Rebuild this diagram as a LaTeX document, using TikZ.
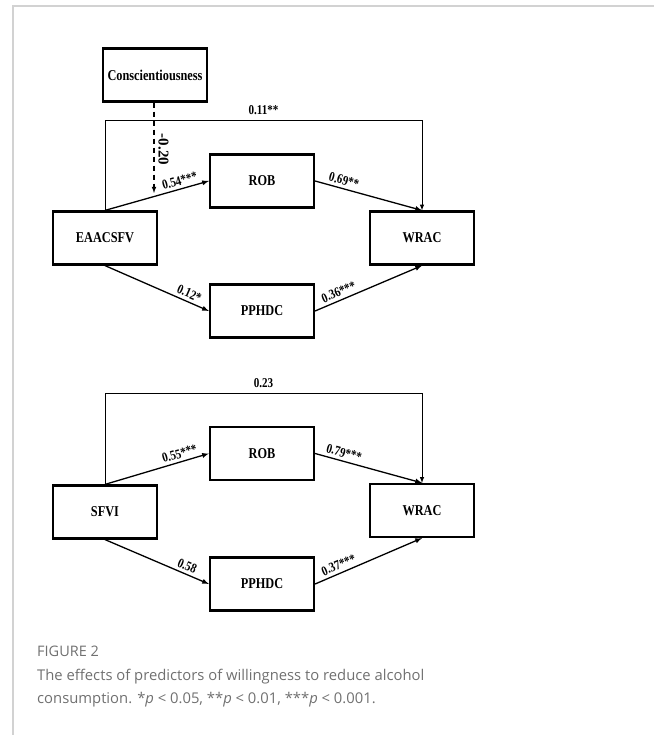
\documentclass[tikz,border=0pt]{standalone}
\usepackage{fontspec}
\setmainfont{Liberation Serif}
\newfontfamily\boxfont[FakeStretch=0.82]{Liberation Serif}
\newfontfamily\capfont{Open Sans}
\usepackage{tikz}
\usetikzlibrary{arrows}

\definecolor{framegray}{HTML}{D2D2D2}
\definecolor{capgray}{HTML}{707070}

\tikzset{
	varbox/.style={draw, line width=2.2pt, minimum width=104pt, minimum height=53pt,
		font=\boxfont\fontsize{15}{17}\selectfont\bfseries, inner sep=0pt},
	path/.style={line width=1.3pt, -latex},
	direct/.style={line width=1pt, -latex},
	coef/.style={font=\boxfont\fontsize{13.5}{15}\selectfont\bfseries, inner sep=2pt},
}

\begin{document}
\begin{tikzpicture}[x=1pt, y=-1pt]
		\useasboundingbox (0,0) rectangle (654,735);
		% frame of the figure panel
		\draw[framegray, line width=1.5pt] (13,735) -- (13,6) -- (654,6);

		% upper model
		\node[varbox] (consc) at (155,75) {Conscientiousness};
		\node[varbox] (eaacsfv) at (105,238) {EAACSFV};
		\node[varbox] (rob1) at (262,181) {ROB};
		\node[varbox] (wrac1) at (422,238) {WRAC};
		\node[varbox] (pphdc1) at (262,311) {PPHDC};
		\coordinate (mod1) at (154,193);

		\draw[line width=1.1pt, dash pattern=on 5pt off 4pt, -latex] (consc.south -| mod1) -- (mod1)
			node[coef, font=\fontsize{15}{17}\selectfont\bfseries, pos=0.52, xshift=9.5pt, rotate=-90] {-0.20};
		\draw[path] (eaacsfv.north) -- (rob1.west)
			node[coef, pos=0.74, sloped, above=1pt] {0.54***};
		\draw[path] (rob1.east) -- (wrac1.north)
			node[coef, pos=0.25, sloped, above=1pt] {0.69**};
		\draw[path] (eaacsfv.south) -- (pphdc1.west)
			node[coef, pos=0.78, sloped, above=1pt] {0.12*};
		\draw[path] (pphdc1.east) -- (wrac1.south)
			node[coef, pos=0.25, sloped, above=1pt] {0.36***};
		\draw[direct] (eaacsfv.north) -- ++(0,-90) coordinate (tl1)
			-- node[coef, above=3pt] {0.11**} (tl1 -| wrac1.north) -- (wrac1.north);

		% lower model
		\node[varbox] (sfvi) at (105,512) {SFVI};
		\node[varbox] (rob2) at (262,453.5) {ROB};
		\node[varbox] (wrac2) at (422,510.5) {WRAC};
		\node[varbox] (pphdc2) at (262,584) {PPHDC};

		\draw[path] (sfvi.north) -- (rob2.west)
			node[coef, pos=0.74, sloped, above=1pt] {0.55***};
		\draw[path] (rob2.east) -- (wrac2.north)
			node[coef, pos=0.25, sloped, above=1pt] {0.79***};
		\draw[path] (sfvi.south) -- (pphdc2.west)
			node[coef, pos=0.76, sloped, above=1pt] {0.58};
		\draw[path] (pphdc2.east) -- (wrac2.south)
			node[coef, pos=0.25, sloped, above=1pt] {0.37***};
		\draw[direct] (sfvi.north) -- ++(0,-91) coordinate (tl2)
			-- node[coef, above=3pt] {0.23} (tl2 -| wrac2.north) -- (wrac2.north);

		% caption
		\node[anchor=west, inner sep=0pt, text=capgray, font=\capfont\fontsize{14.5}{16}\selectfont]
			(figlabel) at (37,651) {FIGURE 2};
		\node[anchor=north west, inner sep=0pt, text=capgray, align=left,
			font=\capfont\fontsize{14.8}{23}\selectfont] (figcaption) at (37,669)
			{The effects of predictors of willingness to reduce alcohol\\
			consumption. *\textit{p} < 0.05, **\textit{p} < 0.01, ***\textit{p} < 0.001.};
	\end{tikzpicture}
\end{document}
